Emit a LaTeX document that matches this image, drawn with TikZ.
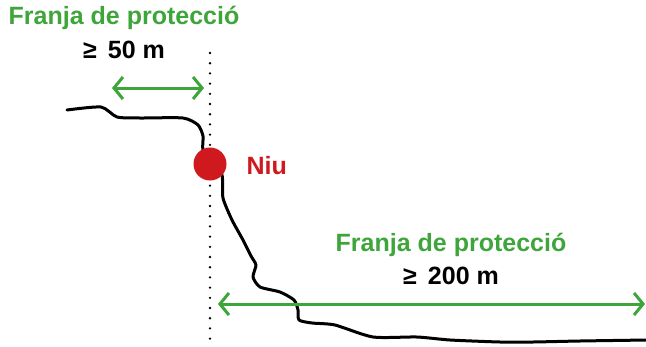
\documentclass[tikz,border=0pt]{standalone}
\usepackage{fontspec}
\setmainfont{Liberation Sans}
\usetikzlibrary{arrows.meta}
\definecolor{franjagreen}{RGB}{62,165,58}
\definecolor{niured}{RGB}{208,25,31}
\tikzset{%
	greenlabel/.style = {text=franjagreen, font=\fontsize{25}{29}\selectfont\bfseries}, % Band title
	distlabel/.style  = {text=black, font=\fontsize{25}{29}\selectfont\bfseries}, % Distance
	nestlabel/.style  = {text=niured, font=\fontsize{25}{29}\selectfont\bfseries},
	dimline/.style    = {draw=franjagreen, line width=3pt, {Straight Barb[length=9pt, width=22pt, line width=3pt]}-{Straight Barb[length=9pt, width=22pt, line width=3pt]}},
	cliff/.style      = {draw, line width=3pt, line join=round, line cap=round},
	dotline/.style    = {draw, line width=2.6pt, line cap=round, dash pattern=on 0pt off 10.2pt},
	nest/.style       = {circle, fill=niured, minimum size=33pt, inner sep=0pt}
}

\begin{document}
\begin{tikzpicture}[x=1pt, y=-1pt]
	\useasboundingbox (0,0) rectangle (646,346);
	% Texts of the two protection bands
	\node[greenlabel] (franjaA) at (124,18) {Franja de protecció};
	\node[distlabel]  (distA)   at (124,50) {≥\, 50 m};
	\node[greenlabel] (franjaB) at (451,245) {Franja de protecció};
	\node[distlabel]  (distB)   at (451,276) {≥\, 200 m};

	% Vertical reference line
	\coordinate (dtop) at (210,53);
	\coordinate (dbot) at (210,340);
	\draw[dotline] (dtop) -- (dbot);

	% Cliff profile
	\draw[cliff] plot[smooth, tension=0.4] coordinates {
		(67,110) (101,107) (117,117) (140,118) (183,118) (198,125) (203,136) (203,150) (212,164)
		(222,175) (223,198) (232,220) (243,240) (251,256) (256,265) (253,277) (260,287)
		(280,292) (294,300) (298,310) (299,320) (312,323) (335,325) (373,337) (417,337)
		(450,340) (500,342) (533,342) (580,341) (647,340)};

	% Nest
	\node[nest] (niu) at (210,164) {};
	\node[nestlabel, anchor=west] (niutext) at (243,166) {Niu};

	% Distance arrows
	\coordinate (aL) at (112,88);
	\coordinate (aR) at (204,88);
	\coordinate (bL) at (218,304);
	\coordinate (bR) at (645,304);
	\draw[dimline] (aL) -- (aR);
	\draw[dimline] (bL) -- (bR);
\end{tikzpicture}
\end{document}
